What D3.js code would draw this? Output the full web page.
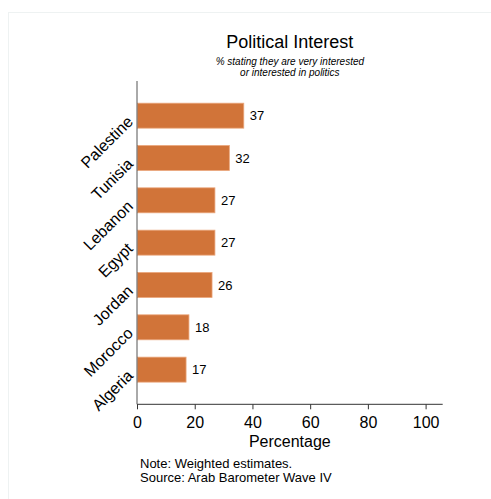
<!DOCTYPE html>
<html><head><meta charset="utf-8">
<script src="https://cdn.jsdelivr.net/npm/d3@7"></script>
<style>
html,body{margin:0;padding:0;background:#fff;}
text{font-family:"Liberation Sans",Arial,Helvetica,sans-serif;fill:#000;}
</style></head>
<body>
<svg id="chart" width="491" height="499"></svg>
<script>
const countries = ["Palestine","Tunisia","Lebanon","Egypt","Jordan","Morocco","Algeria"];
const values = [37,32,27,27,26,18,17];
const xTicks = [0,20,40,60,80,100];
const title = "Political Interest";
const subtitleLines = ["% stating they are very interested","or interested in politics"];
const xLabel = "Percentage";
const noteLines = ["Note: Weighted estimates.","Source: Arab Barometer Wave IV"];

(function(){
const svg = d3.select("#chart");
// faint frame
svg.append("rect").attr("x",8.5).attr("y",12.5).attr("width",500).attr("height",500)
  .attr("fill","none").attr("stroke","#eef2f2").attr("stroke-width",1);

const pLeft = 137, pRight = 442.7, pTop = 81, pBottom = 404.3;
const x = d3.scaleLinear().domain([0,106]).range([pLeft, pLeft + 106*2.886]);
const y = d3.scaleBand().domain(countries).range([pTop,pBottom]).paddingInner(0.41).paddingOuter(0.524);

// bars
svg.append("g").selectAll("rect").data(countries).join("rect")
  .attr("x", x(0)+0.5)
  .attr("y", d=>y(d))
  .attr("width", (d,i)=>x(values[i])-x(0)-0.5)
  .attr("height", y.bandwidth())
  .attr("fill","#d17439")
  .attr("stroke","#eaa67c").attr("stroke-width",0.8);

// value labels
svg.append("g").selectAll("text").data(countries).join("text")
  .attr("x",(d,i)=>x(values[i])+6)
  .attr("y",d=>y(d)+y.bandwidth()/2)
  .attr("dy","0.35em")
  .attr("font-size",13)
  .text((d,i)=>values[i]);

// x axis
const xAxis = d3.axisBottom(x).tickValues(xTicks).tickSize(5).tickSizeOuter(0).tickPadding(7.6);
const gx = svg.append("g").attr("transform",`translate(0,${pBottom})`).call(xAxis);
gx.select(".domain").attr("stroke","#333").attr("d",`M${pLeft},0H${pRight}`);
gx.selectAll(".tick line").attr("stroke","#333");
gx.selectAll(".tick text").attr("font-size",16).attr("font-family","Liberation Sans, Arial, sans-serif").attr("fill","#000");

// y axis
const yAxis = d3.axisLeft(y).tickSize(0).tickFormat(()=> "");
const gy = svg.append("g").attr("transform",`translate(${pLeft},0)`).call(yAxis);
gy.select(".domain").attr("stroke","#555").attr("d",`M0,${pTop}V${pBottom}`);

// country labels rotated
svg.append("g").selectAll("text").data(countries).join("text")
  .attr("transform",d=>`translate(${pLeft-7},${y(d)+y.bandwidth()/2+3}) rotate(-45)`)
  .attr("text-anchor","end")
  .attr("dy","0.35em")
  .attr("font-size",16)
  .text(d=>d);

// title
const cx = (pLeft+pRight)/2;
svg.append("text").attr("x",cx).attr("y",47.7).attr("text-anchor","middle").attr("font-size",18).text(title);
svg.append("g").selectAll("text").data(subtitleLines).join("text")
  .attr("x",cx).attr("y",(d,i)=>65+i*10.5).attr("text-anchor","middle")
  .attr("font-size",10).attr("font-style","italic").text(d=>d);

// x label
svg.append("text").attr("x",cx).attr("y",446.7).attr("text-anchor","middle").attr("font-size",16).text(xLabel);

// notes
svg.append("g").selectAll("text").data(noteLines).join("text")
  .attr("x",140).attr("y",(d,i)=>467.7+i*14).attr("font-size",13).text(d=>d);
})();
</script>
</body></html>
